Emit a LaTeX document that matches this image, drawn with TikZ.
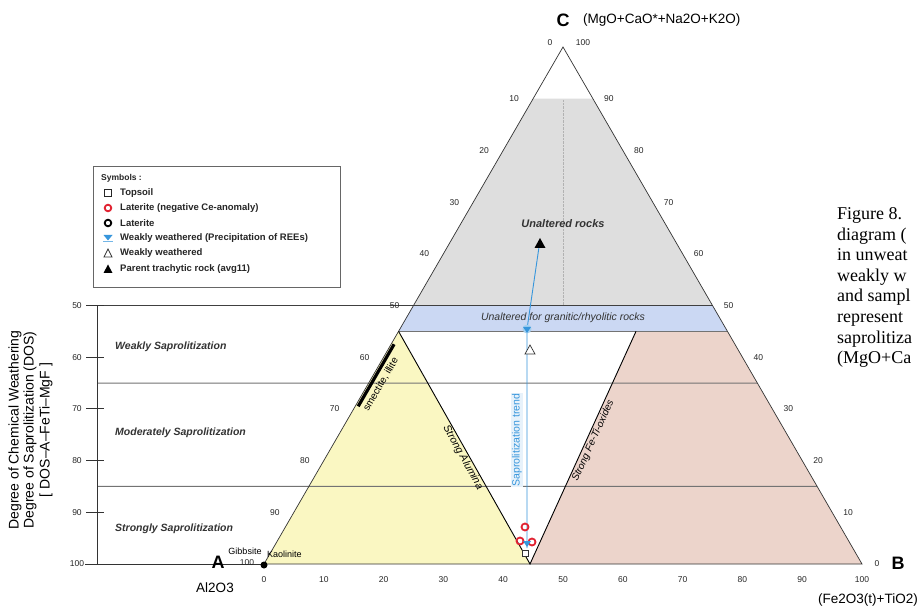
\documentclass[tikz,border=0pt]{standalone}
\usepackage{fontspec}
\setmainfont{Liberation Sans}
\newfontfamily\capfont{Liberation Serif}
\usetikzlibrary{calc}
\definecolor{grayreg}{RGB}{222,222,222}
\definecolor{blueband}{RGB}{203,216,243}
\definecolor{yellowreg}{RGB}{250,247,194}
\definecolor{pinkreg}{RGB}{236,212,203}
\definecolor{trendblue}{RGB}{55,150,220}
\definecolor{markred}{RGB}{225,35,50}
\newcommand\fs[1]{\fontsize{#1}{#1}\selectfont}
\begin{document}
\begin{tikzpicture}[x=1pt,y=-1pt,
  edge/.style={draw=black!80, line width=0.7pt},
  hline/.style={draw=black!55, line width=1pt},
  tk/.style={font=\fs{8.5}, inner sep=0pt, text=black!85},
  zone/.style={font=\bfseries\itshape\fs{10.5}, inner sep=0pt, text=black!80},
  leg/.style={anchor=west, font=\bfseries\fs{9.5}, inner sep=0pt, text=black!85},
  big/.style={font=\bfseries\fs{18}, inner sep=0pt},
  oxide/.style={font=\fs{13.5}, inner sep=0pt},
  capline/.style={anchor=base west, font=\capfont\fs{18}, inner sep=0pt}]
\useasboundingbox (0,0) rectangle (921,612);
\fill[white] (0,0) rectangle (921,612);
% vertices
\coordinate (A) at (264,564);
\coordinate (B) at (862,564);
\coordinate (C) at (563,47);
\coordinate (L10) at ($(C)!0.1!(A)$);
\coordinate (R10) at ($(C)!0.1!(B)$);
\coordinate (L50) at ($(C)!0.5!(A)$);
\coordinate (R50) at ($(C)!0.5!(B)$);
\coordinate (L55) at ($(C)!0.55!(A)$);
\coordinate (R55) at ($(C)!0.55!(B)$);
\coordinate (R65) at ($(C)!0.65!(B)$);
\coordinate (R85) at ($(C)!0.85!(B)$);
\coordinate (V) at (530,564);
\coordinate (P) at (636,331.35);
% fields
\fill[grayreg] (L10) -- (L50) -- (R50) -- (R10) -- cycle;
\fill[blueband] (L50) -- (L55) -- (R55) -- (R50) -- cycle;
\fill[yellowreg] (A) -- (L55) -- (V) -- cycle;
\fill[pinkreg] (V) -- (P) -- (R55) -- (B) -- cycle;
\draw[black!30, densely dotted] (563,100) -- (563,305);
% horizontal DOS lines
\draw[hline, draw=black!75] (87,305.5) -- (R50);
\draw[hline] (L55) -- (R55);
\draw[hline] (97,383) -- (R65);
\draw[hline] (97,486.45) -- (R85);
\draw[edge] (85,564) -- (A);
\draw[edge] (A) -- (C) -- (B) -- cycle;
\draw[line width=0.9pt] (L55) -- (V) -- (P);
% DOS axis
\draw[black!80, line width=0.9pt] (97,305.5) -- (97,564);
\foreach \v in {50,60,...,100} {
  \draw[black!80, line width=0.9pt] (86,{47+5.17*\v}) -- (104,{47+5.17*\v});
  \node[tk] at (77,{47+5.17*\v}) {\v};
}
% ternary tick labels
\foreach \v in {10,20,...,90} \node[tk] at ($(C)!\v/100!(A)+(-19,0)$) {\v};
\foreach \w in {10,20,...,90} \node[tk] at ($(B)!\w/100!(C)+(16,0)$) {\w};
\foreach \u in {0,10,...,100} \node[tk] at ($(A)!\u/100!(B)+(0,16)$) {\u};
\node[tk] at (550,43) {0};
\node[tk] at (583,43) {100};
\node[tk] at (247,563) {100};
\node[tk] at (877,564) {0};
% apex labels
\node[big] at (563,20) {C};
\node[oxide, anchor=west] at (583,20) {(MgO+CaO*+Na2O+K2O)};
\node[big] at (218,562) {A};
\node[oxide] at (215,588) {Al2O3};
\node[big] at (898,563) {B};
\node[oxide] at (868,600) {(Fe2O3(t)+TiO2)};
% axis title
\node[rotate=90, font=\fs{14}, inner sep=0pt] at (15,430) {Degree of Chemical Weathering};
\node[rotate=90, font=\fs{14}, inner sep=0pt] at (30,430) {Degree of Saprolitization (DOS)};
\node[rotate=90, font=\fs{14}, inner sep=0pt] at (46,430) {[ DOS--A--FeTi--MgF ]};
% zone names
\node[zone, anchor=west] at (115,347) {Weakly Saprolitization};
\node[zone, anchor=west] at (115,433) {Moderately Saprolitization};
\node[zone, anchor=west] at (115,529) {Strongly Saprolitization};
\node[zone, font=\bfseries\itshape\fs{11}] at (563,224) {Unaltered rocks};
\node[zone, font=\itshape\fs{10.5}] at (563,318) {Unaltered for granitic/rhyolitic rocks};
\node[font=\itshape\fs{10.5}, rotate=-61, anchor=north, inner sep=2pt] at (469,454) {Strong Alumina};
\node[font=\itshape\fs{10}, rotate=65.6, anchor=north, inner sep=2pt] at (587,438) {Strong Fe-Ti-oxides};
% clay minerals
\draw[line width=3.2pt] ($(C)!0.575!(A)+(3,0)$) -- ($(C)!0.695!(A)+(3,0)$);
\node[font=\fs{10}, rotate=60, anchor=north, inner sep=2.5pt] at ($(C)!0.646!(A)+(5,0)$) {smectite, illite};
\fill (264,565) circle (3.5);
\node[font=\fs{9}, inner sep=0pt] at (245,551) {Gibbsite};
\node[font=\fs{9}, inner sep=0pt, anchor=west] at (267,554) {Kaolinite};
% saprolitization trend
\node[rotate=90, fill=trendblue!12, text=trendblue, font=\fs{10.5}, inner sep=1pt] at (517,440) {Saprolitization trend};
\draw[trendblue, line width=0.9pt] (527,548) -- (527,329) -- (539,247);
\fill (534.5,248) -- (545.5,248) -- (540,238) -- cycle;
\draw[black!80, fill=white, line width=0.7pt] (525,354) -- (535,354) -- (530,345) -- cycle;
\fill[trendblue!45] (527,329) circle (4.5);
\fill[trendblue] (523,327) -- (531,327) -- (527,333) -- cycle;
% sample cluster near the base
\draw[black!80, line width=0.8pt, fill=white] (522,550) rectangle (528,556);
\draw[markred, line width=1.8pt] (525,527) circle (3.5);
\draw[markred, line width=1.8pt] (520,541) circle (3.5);
\draw[markred, line width=1.8pt] (532,542) circle (3.5);
\fill[trendblue] (523,541) -- (531,541) -- (527,547) -- cycle;
% legend
\draw[black!60, line width=0.7pt] (93,166) rectangle (340,287);
\node[leg, font=\bfseries\fs{8.5}] at (101,178) {Symbols :};
\draw[black!85, line width=0.8pt] (104.5,189.5) rectangle (111.5,196.5);
\node[leg] at (120,193) {Topsoil};
\draw[markred, line width=1.8pt] (108,208) circle (3.3);
\node[leg] at (120,208) {Laterite (negative Ce-anomaly)};
\draw[black, line width=1.8pt] (108,223) circle (3.3);
\node[leg] at (120,223) {Laterite};
\fill[trendblue] (103.5,235) -- (112.5,235) -- (108,240.5) -- cycle;
\draw[trendblue!70] (103,241.5) -- (113,241.5);
\node[leg] at (120,238) {Weakly weathered (Precipitation of REEs)};
\draw[black!80, line width=0.7pt] (104,257) -- (112,257) -- (108,249) -- cycle;
\node[leg] at (120,253) {Weakly weathered};
\fill (103.5,273) -- (112.5,273) -- (108,264.5) -- cycle;
\node[leg] at (120,269) {Parent trachytic rock (avg11)};
% caption fragment at the right border
\begin{scope}
\clip (830,195) rectangle (921,385);
\foreach \t [count=\i from 0] in {{Figure 8.},{diagram (},{in unweat},{weakly w},{and sampl},{represent},{saprolitiza},{(MgO+Ca}}
  \node[capline] at (837,{220+20.5*\i}) {\t};
\end{scope}
\end{tikzpicture}
\end{document}
